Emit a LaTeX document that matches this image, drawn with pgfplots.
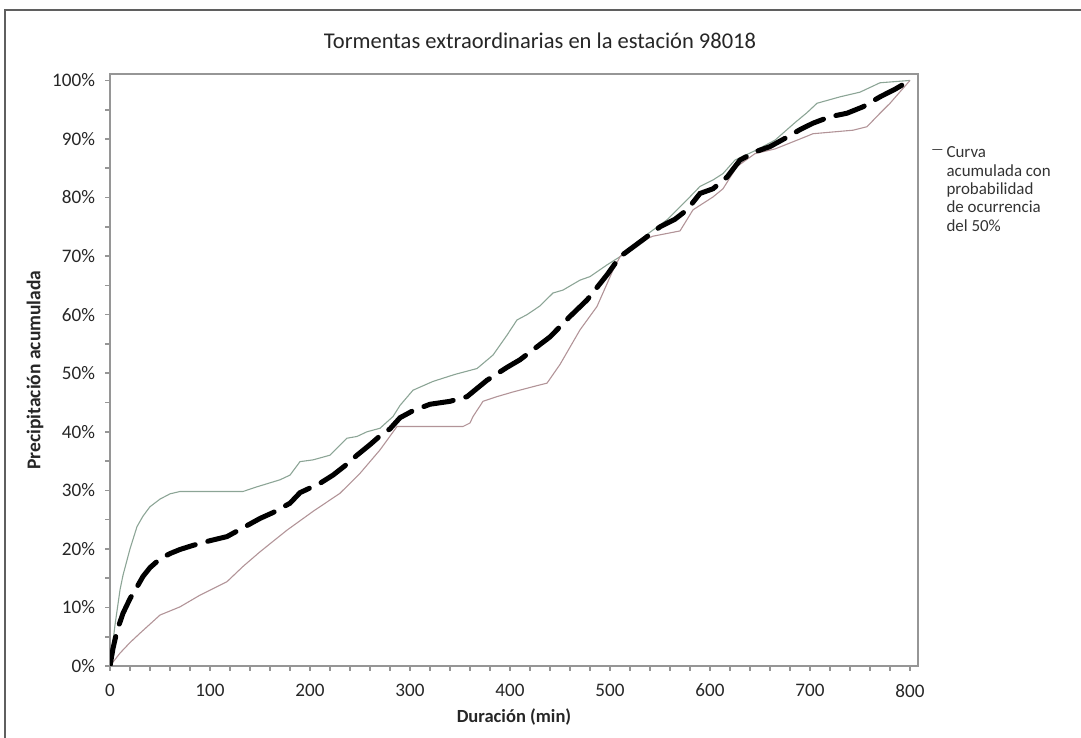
\documentclass[border=0pt]{standalone}
\usepackage{pgfplots}
\pgfplotsset{compat=1.18}
\usepackage{fontspec}
\setmainfont{Carlito}
\definecolor{axisgray}{RGB}{150,150,150}
\definecolor{framegray}{RGB}{95,95,95}
\definecolor{upcol}{RGB}{140,165,150}
\definecolor{lowcol}{RGB}{178,148,152}
\begin{document}
\begin{tikzpicture}
\useasboundingbox (0bp,0bp) rectangle (540.5bp,369bp);
% outer chart frame (cropped on right and bottom)
\draw[framegray, line width=1bp] (2.5bp,0bp) -- (2.5bp,364bp) -- (540.5bp,364bp);
\node[font=\fontsize{11.3}{13}\selectfont, text=black!85] at (270bp,348.5bp) {Tormentas extraordinarias en la estación 98018};
\node[font=\fontsize{9.3}{10}\selectfont\bfseries, text=black!85] at (257bp,10.5bp) {Duración (min)};
\node[font=\fontsize{9.8}{10}\selectfont\bfseries, text=black!85, rotate=90] at (17.5bp,184bp) {Precipitación acumulada};
\begin{axis}[
  at={(55bp,36bp)}, anchor=south west,
  scale only axis, width=404bp, height=296bp,
  xmin=0, xmax=808, ymin=0, ymax=101.1,
  axis line style={axisgray, line width=1.1bp},
  every tick/.style={axisgray, line width=0.8bp},
  tick align=outside,
  major tick length=2.5bp, minor tick length=2.5bp,
  xtick={0,100,...,800},
  minor xtick={20,40,60,80,120,140,160,180,220,240,260,280,320,340,360,380,420,440,460,480,520,540,560,580,620,640,660,680,720,740,760,780},
  ytick={0,10,...,100},
  minor ytick={5,15,...,95},
  yticklabels={0\%,10\%,20\%,30\%,40\%,50\%,60\%,70\%,80\%,90\%,100\%},
  /pgf/number format/assume math mode=true,
  tick label style={font=\fontsize{9.6}{10}\selectfont, text=black!85},
  yticklabel style={xshift=-1.5bp},
  xticklabel style={yshift=-3bp},
  xtick pos=bottom, ytick pos=left,
  legend style={at={(axis description cs:1.017,0.885)}, anchor=north west,
    draw=none, fill=none, inner sep=0pt,
    font=\fontsize{8.5}{9.2}\selectfont, text=black!80,
    cells={anchor=north west, align=left}},
  legend image code/.code={\path[draw=none] (0bp,0bp) -- (4.5bp,0bp); \draw[black!70, line width=0.7bp, solid] (0bp,-3.4bp) -- (4.5bp,-3.4bp);},
]
% upper envelope
\addplot[upcol, line width=0.55bp, forget plot] coordinates {
(0,0) (5,7) (10,13) (13,15.5) (20,20) (27,23.8) (33,25.6) (40,27.2) (50,28.5) (60,29.4)
(70,29.8) (100,29.8) (133,29.8) (147,30.6) (170,31.8) (180,32.6) (190,34.9) (203,35.2)
(220,36.0) (237,38.9) (247,39.2) (257,40.0) (270,40.6) (283,42.6) (290,44.5) (303,47.1)
(323,48.6) (345,49.8) (367,50.8) (383,53.1) (397,56.5) (407,59.1) (417,60.0) (430,61.5)
(443,63.7) (453,64.2) (470,65.9) (480,66.5) (497,68.5) (510,69.9) (520,71.5) (537,73.7)
(557,76.2) (577,79.6) (590,81.9) (603,83.0) (613,84.1) (625,86.4) (645,88.0) (665,89.8)
(685,92.8) (697,94.5) (707,96.1) (730,97.2) (750,98.0) (770,99.6) (800,100)
};
% lower envelope
\addplot[lowcol, line width=0.55bp, forget plot] coordinates {
(0,0) (10,2.2) (20,4.0) (30,5.6) (50,8.7) (70,10.1) (90,12.1) (117,14.4) (133,17.0)
(150,19.5) (177,23.2) (203,26.4) (230,29.5) (250,32.9) (270,36.9) (287,40.9) (300,40.9)
(353,40.9) (360,41.5) (363,42.6) (373,45.2) (387,46.0) (403,46.8) (423,47.7) (437,48.3)
(450,51.5) (470,57.4) (487,61.4) (503,67.6) (510,69.9) (530,72.5) (543,73.4) (570,74.3)
(583,77.9) (603,80.1) (613,81.5) (627,85.3) (645,87.5) (665,88.3) (690,90.0) (703,90.9)
(743,91.5) (757,92.1) (770,94.4) (780,96.1) (800,100)
};
% 50% curve
\addplot[black, line width=2.5bp, line cap=round, dash pattern=on 15bp off 6.5bp] coordinates {
(0,0) (3,3) (7,6) (13,9) (20,11.5) (27,13.5) (33,15.3) (40,16.8) (50,18.3) (60,19.2)
(70,19.9) (83,20.6) (100,21.4) (117,22.1) (133,23.6) (150,25.2) (163,26.2) (180,27.8)
(190,29.6) (210,31.2) (223,32.6) (235,34.2) (247,36.0) (260,37.8) (270,39.3) (280,40.5)
(290,42.4) (303,43.6) (320,44.7) (340,45.2) (357,46.0) (377,48.8) (397,51.0) (410,52.3)
(423,54.0) (440,56.2) (460,59.7) (477,62.5) (497,66.8) (510,69.9) (533,72.8) (550,75.0)
(565,76.3) (577,77.9) (590,80.7) (603,81.5) (617,83.5) (630,86.4) (645,87.8) (660,88.7)
(677,90.3) (690,91.6) (703,92.7) (720,93.8) (737,94.4) (753,95.5) (770,97.2) (785,98.5)
(800,100)
};
\legend{Curva\\acumulada con\\probabilidad\\de ocurrencia\\del 50\%}
% plot area border on top and right
\draw[axisgray, line width=1.1bp] (axis description cs:0,1) -- (axis description cs:1,1) -- (axis description cs:1,0);
\end{axis}
\end{tikzpicture}
\end{document}
